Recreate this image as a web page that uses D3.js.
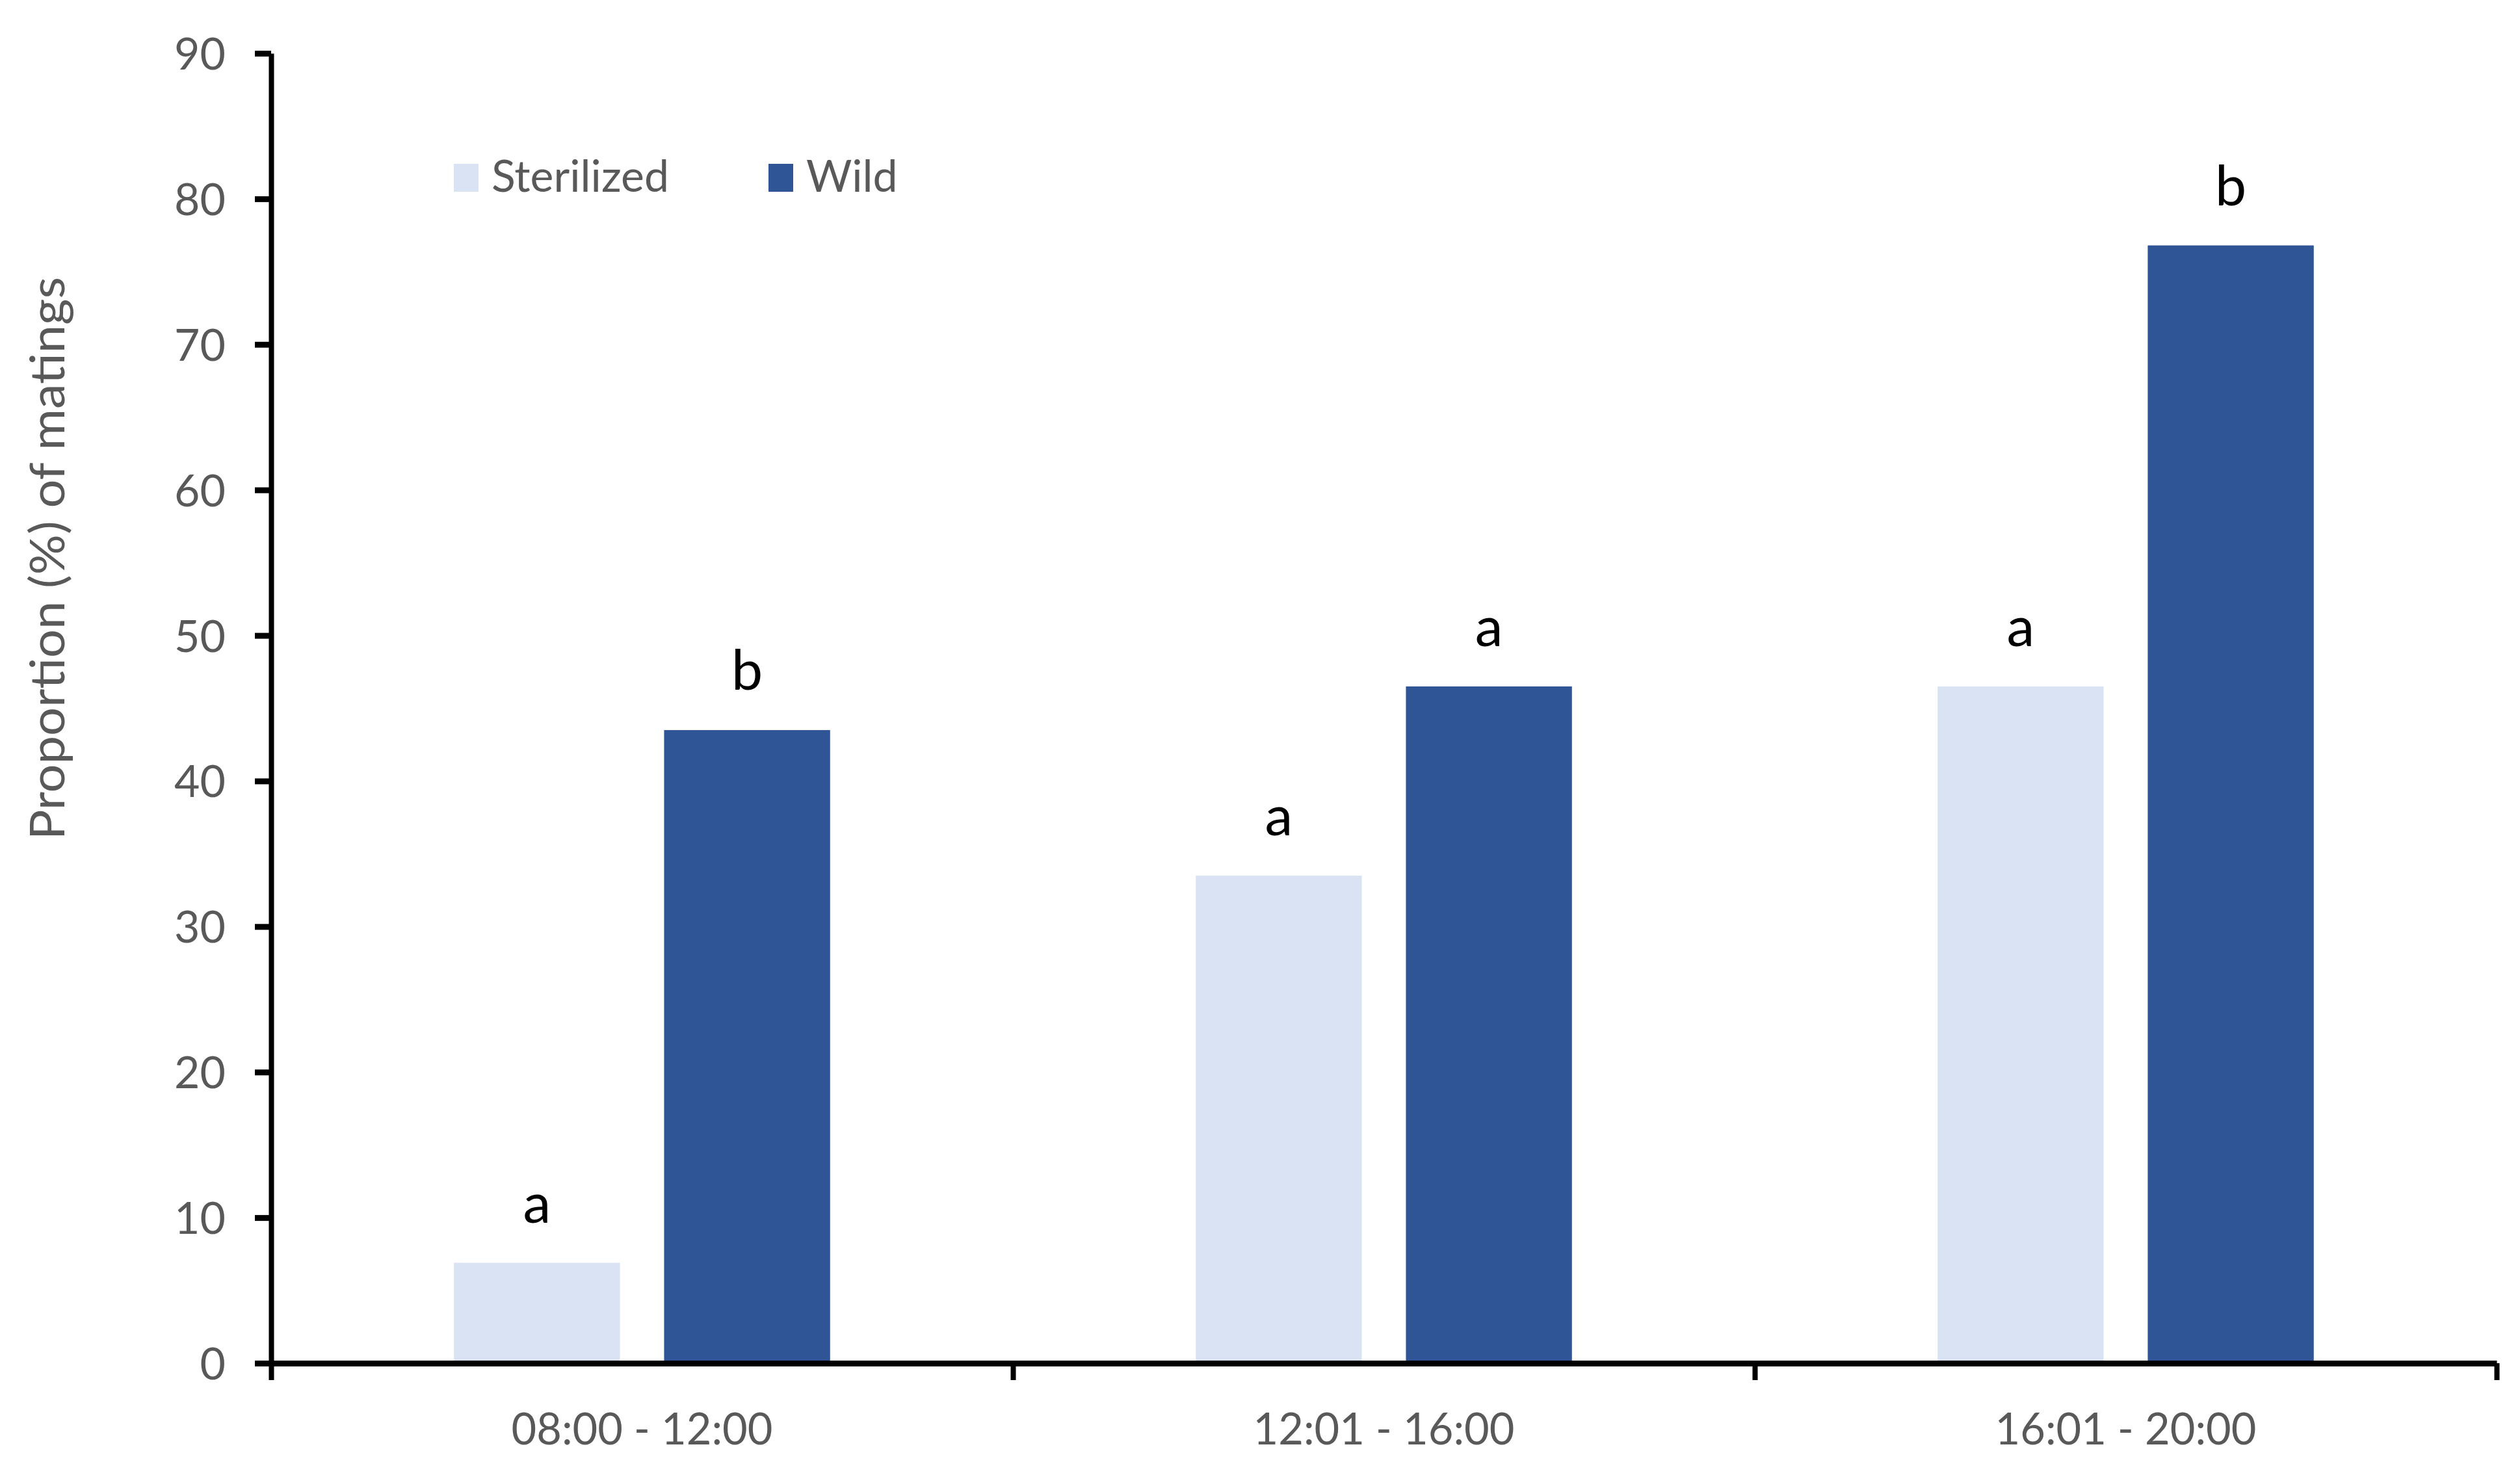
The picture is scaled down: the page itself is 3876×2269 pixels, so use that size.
<!DOCTYPE html>
<html>
<head>
<meta charset="utf-8">
<script src="https://cdn.jsdelivr.net/npm/d3@7"></script>
<style>
  html, body { margin: 0; padding: 0; background: #ffffff; }
  svg { display: block; }
</style>
</head>
<body>
<script>
// ---------------- data ----------------
const categories = ["08:00 - 12:00", "12:01 - 16:00", "16:01 - 20:00"];
const seriesNames = ["Sterilized", "Wild"];
const sterilizedValues = [6.9, 33.5, 46.5];
const wildValues = [43.5, 46.5, 76.8];
const sterilizedLetters = ["a", "a", "a"];
const wildLetters = ["b", "a", "b"];
const yTickValues = [0, 10, 20, 30, 40, 50, 60, 70, 80, 90];
const yTitle = "Proportion (%) of matings";
const seriesColors = ["#DAE3F3", "#2F5597"];

// ---------------- layout ----------------
const W = 3876, H = 2269;
const plotLeft = 417, plotRight = 3840, plotTop = 82, plotBottom = 2097;
const textGray = "#595959";
const font = "Lato, 'Open Sans', 'Noto Sans', sans-serif";

const svg = d3.select("body").append("svg")
  .attr("width", W).attr("height", H)
  .attr("viewBox", `0 0 ${W} ${H}`);

const x0 = d3.scaleBand().domain(categories).range([plotLeft, plotRight]).padding(0);
const x1 = d3.scaleBand().domain(seriesNames).range([0, x0.bandwidth()])
  .paddingInner(0.21).paddingOuter(0.87);
const y = d3.scaleLinear().domain([0, 90]).range([plotBottom, plotTop]);

const rows = categories.map((c, i) => ({
  cat: c,
  items: [
    { s: seriesNames[0], v: sterilizedValues[i], letter: sterilizedLetters[i], color: seriesColors[0] },
    { s: seriesNames[1], v: wildValues[i], letter: wildLetters[i], color: seriesColors[1] }
  ]
}));

// bars
const groups = svg.append("g").selectAll("g").data(rows).join("g")
  .attr("transform", d => `translate(${x0(d.cat)},0)`);
groups.selectAll("rect").data(d => d.items).join("rect")
  .attr("x", d => x1(d.s))
  .attr("width", x1.bandwidth())
  .attr("y", d => y(d.v))
  .attr("height", d => y(0) - y(d.v))
  .attr("fill", d => d.color);

// significance letters
groups.selectAll("text").data(d => d.items).join("text")
  .attr("x", d => x1(d.s) + x1.bandwidth() / 2)
  .attr("y", d => y(d.v) - 62)
  .attr("text-anchor", "middle")
  .attr("font-family", font)
  .attr("font-size", 86)
  .attr("fill", "#000000")
  .text(d => d.letter);

// y axis
const yAxis = svg.append("g")
  .attr("transform", `translate(${plotLeft},0)`)
  .call(d3.axisLeft(y).tickValues(yTickValues).tickSize(25).tickSizeOuter(0).tickPadding(45));
yAxis.select(".domain").attr("stroke", "#000").attr("stroke-width", 8);
yAxis.selectAll(".tick line").attr("stroke", "#000").attr("stroke-width", 9);
yAxis.selectAll(".tick text")
  .attr("font-family", font).attr("font-size", 68).attr("fill", textGray)
  .attr("dy", "0.36em");

// x axis (boundary ticks)
const xEdge = d3.scaleLinear().domain([0, categories.length]).range([plotLeft, plotRight]);
const xAxis = svg.append("g")
  .attr("transform", `translate(0,${plotBottom})`)
  .call(d3.axisBottom(xEdge).tickValues(d3.range(categories.length + 1)).tickSize(26).tickSizeOuter(0).tickFormat(""));
xAxis.select(".domain").attr("stroke", "#000").attr("stroke-width", 9);
xAxis.selectAll(".tick line").attr("stroke", "#000").attr("stroke-width", 8);

// x category labels
const xLabels = svg.append("g")
  .attr("transform", `translate(0,${plotBottom})`)
  .call(d3.axisBottom(x0).tickSize(0).tickPadding(0));
xLabels.select(".domain").remove();
xLabels.selectAll(".tick text")
  .attr("y", 125).attr("dy", 0)
  .attr("font-family", font).attr("font-size", 68).attr("fill", textGray)
  .attr("textLength", 402).attr("lengthAdjust", "spacingAndGlyphs");

// y title
svg.append("text")
  .attr("transform", `translate(99,${(426 + 1292) / 2}) rotate(-90)`)
  .attr("text-anchor", "middle")
  .attr("font-family", font).attr("font-size", 73).attr("fill", textGray)
  .attr("textLength", 866).attr("lengthAdjust", "spacingAndGlyphs")
  .text(yTitle);

// legend
const legendX = [698, 1182];
const legend = svg.append("g").selectAll("g").data(seriesNames).join("g")
  .attr("transform", (d, i) => `translate(${legendX[i]},252)`);
legend.append("rect")
  .attr("width", 38).attr("height", 43)
  .attr("fill", (d, i) => seriesColors[i]);
legend.append("text")
  .attr("x", 58).attr("y", 43)
  .attr("font-family", font).attr("font-size", 68).attr("fill", textGray)
  .text(d => d);
</script>
</body>
</html>
